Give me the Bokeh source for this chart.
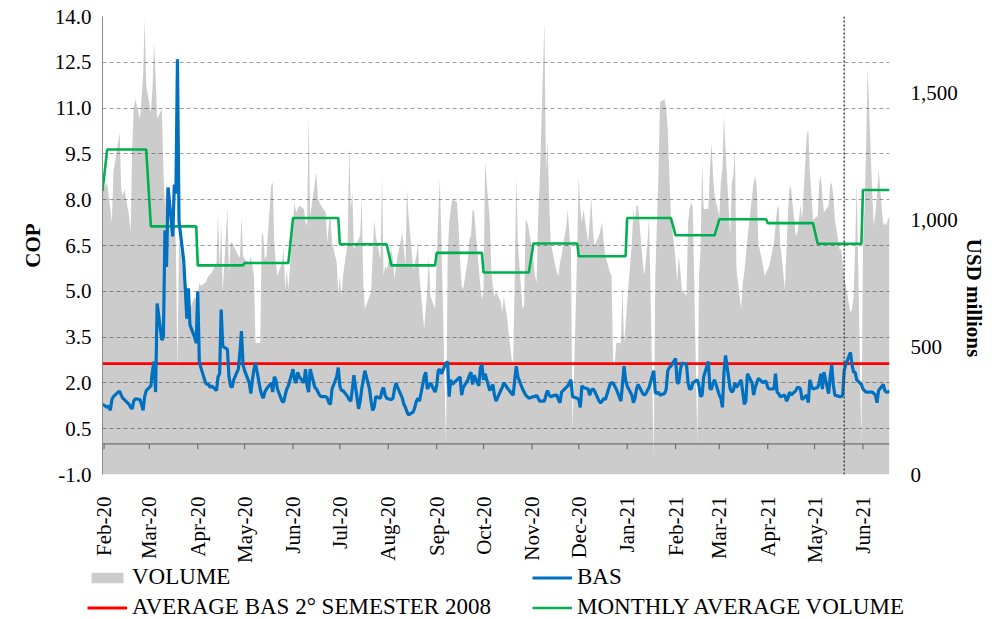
import pandas as pd
from math import pi
from bokeh.plotting import figure
from bokeh.layouts import column, row
from bokeh.models import (ColumnDataSource, Range1d, LinearAxis, FixedTicker,
                          DatetimeTickFormatter, NumeralTickFormatter, Span,
                          Legend, LegendItem)
from bokeh.embed import file_html
from bokeh.resources import INLINE

# ---------------- data ----------------
months = ["2020-01", "2020-02", "2020-03", "2020-04", "2020-05", "2020-06",
          "2020-07", "2020-08", "2020-09", "2020-10", "2020-11", "2020-12",
          "2021-01", "2021-02", "2021-03", "2021-04", "2021-05", "2021-06"]

# BAS (COP), business days
bas_2020_01 = [1.3]
bas_2020_02 = [1.2, 1.25, 1.1, 1.45, 1.55, 1.7, 1.72, 1.6, 1.5, 1.45, 1.3, 1.2, 1.15, 1.4, 1.48, 1.45, 1.3, 1.1, 1.55, 1.75]
bas_2020_03 = [1.9, 2.4, 2.7, 1.7, 4.6, 3.4, 3.5, 7.0, 5.8, 8.4, 6.8, 8.5, 8.2, 12.6, 7.3, 6.0, 5.1, 4.1, 5.1, 3.9, 3.5, 3.3]
bas_2020_04 = [5.0, 2.7, 2.5, 2.0, 1.95, 1.95, 1.85, 1.9, 1.75, 2.2, 2.3, 4.4, 3.2, 3.1, 2.2, 1.9, 1.85, 2.1, 2.45, 3.0, 3.7, 2.6]
bas_2020_05 = [2.4, 2.0, 1.65, 2.1, 2.45, 2.65, 1.8, 1.6, 1.5, 1.7, 1.8, 2.0, 1.7, 2.2, 2.1, 1.8, 1.4, 1.37, 1.6, 1.8, 1.9]
bas_2020_06 = [2.45, 2.1, 2.0, 2.35, 2.2, 2.0, 2.45, 1.9, 1.7, 2.45, 1.85, 1.8, 1.7, 1.6, 1.55, 1.55, 1.5, 1.35, 1.3, 1.8, 2.2, 2.5]
bas_2020_07 = [1.9, 1.75, 1.75, 1.55, 1.45, 1.4, 1.8, 2.25, 1.15, 1.4, 1.8, 2.1, 2.4, 1.8, 1.4, 1.1, 1.2, 1.55, 1.5, 1.75, 1.85, 1.6, 1.5]
bas_2020_08 = [1.45, 1.5, 1.8, 2.0, 1.85, 1.5, 1.3, 1.2, 1.05, 0.95, 1.05, 1.2, 1.4, 1.5, 1.4, 2.2, 2.35, 1.8, 1.9, 2.0, 1.7]
bas_2020_09 = [1.9, 2.4, 2.45, 2.3, 2.65, 2.7, 1.55, 2.1, 1.95, 2.1, 2.15, 2.2, 1.6, 1.85, 2.1, 2.25, 2.35, 1.95, 2.25, 1.9, 2.5, 2.6]
bas_2020_10 = [2.1, 2.3, 1.75, 1.85, 1.95, 1.6, 1.4, 1.75, 1.85, 2.0, 1.95, 1.85, 1.65, 1.6, 2.1, 2.55, 2.2, 1.8, 1.7, 1.6, 1.55, 1.5]
bas_2020_11 = [1.55, 1.55, 1.6, 1.5, 1.4, 1.4, 1.6, 1.75, 1.6, 1.55, 1.6, 1.6, 1.45, 1.35, 1.7, 1.85, 1.9, 2.0, 2.1, 1.55, 1.5]
bas_2020_12 = [1.45, 1.2, 1.9, 1.85, 1.8, 1.6, 1.75, 1.8, 1.75, 1.4, 1.35, 1.4, 1.5, 1.45, 1.95, 2.0, 2.0, 1.9, 1.8, 1.4, 1.95, 2.55, 2.1]
bas_2021_01 = [1.9, 1.6, 1.35, 1.5, 1.8, 1.95, 1.65, 1.6, 1.65, 1.75, 1.85, 2.4, 1.7, 1.65, 1.7, 1.6, 1.65, 1.8, 2.4, 2.5, 2.55]
bas_2021_02 = [2.8, 2.0, 2.0, 2.4, 2.65, 2.6, 2.0, 1.8, 1.8, 2.0, 2.1, 1.9, 1.55, 1.6, 2.2, 2.7, 1.8, 1.8, 2.0, 2.1]
bas_2021_03 = [1.6, 1.5, 1.2, 2.35, 2.9, 1.8, 1.7, 1.75, 2.0, 1.85, 2.1, 1.7, 1.3, 1.4, 2.3, 2.0, 1.6, 1.85, 2.0, 2.15, 2.0, 2.05, 2.05]
bas_2021_04 = [1.85, 1.8, 1.8, 2.3, 1.7, 1.65, 1.55, 1.6, 1.4, 1.5, 1.7, 1.6, 1.75, 1.85, 1.85, 1.8, 1.45, 1.6, 1.35, 2.1, 1.9, 1.8]
bas_2021_05 = [1.85, 2.0, 2.3, 1.8, 2.35, 1.65, 2.2, 2.6, 1.95, 1.6, 1.55, 1.55, 1.6, 2.4, 2.6, 3.0, 2.6, 2.35, 2.35, 2.1, 1.95]
bas_2021_06 = [1.8, 1.75, 1.7, 1.7, 1.7, 1.65, 1.6, 1.35, 1.75, 1.95, 1.75, 1.7, 1.7, 1.75]

# VOLUME (USD millions), business days
vol_2020_01 = [1115]
vol_2020_02 = [1148, 1096, 1043, 991, 1188, 1306, 1345, 1122, 1096, 1122, 1017, 951, 1280, 1437, 1476, 1398, 1476, 1568, 1791, 1529]
vol_2020_03 = [1423, 1516, 1699, 1568, 1398, 1437, 1200, 1050, 1150, 1000, 950, 1000, 900, 413, 925, 780, 760, 720, 680, 650, 700, 690]
vol_2020_04 = [689, 755, 741, 755, 768, 781, 787, 794, 833, 1030, 807, 991, 715, 1050, 781, 912, 912, 899, 860, 853, 1011, 860]
vol_2020_05 = [846, 833, 860, 820, 781, 518, 518, 951, 938, 846, 860, 1135, 1148, 912, 833, 781, 833, 886, 728, 807, 728]
vol_2020_06 = [991, 1070, 1030, 1043, 1056, 1043, 991, 978, 1411, 1017, 1148, 1188, 1083, 1070, 1056, 1030, 912, 991, 1017, 912, 833, 715]
vol_2020_07 = [781, 702, 781, 912, 1293, 1043, 1109, 886, 925, 938, 1090, 755, 650, 702, 715, 860, 1003, 938, 846, 1175, 781, 820, 807]
vol_2020_08 = [886, 846, 768, 820, 860, 951, 886, 820, 1122, 1017, 807, 833, 860, 912, 781, 571, 650, 728, 860, 702, 650]
vol_2020_09 = [846, 1017, 1161, 938, 125, 846, 991, 1043, 1083, 1070, 978, 846, 741, 728, 846, 925, 938, 1043, 1030, 807, 741, 689]
vol_2020_10 = [720, 1230, 1000, 800, 740, 700, 720, 680, 640, 700, 660, 620, 453, 440, 781, 1175, 912, 650, 663, 1003, 991, 965]
vol_2020_11 = [846, 781, 755, 1017, 1150, 1780, 1200, 1306, 1096, 912, 820, 794, 781, 833, 860, 978, 1043, 938, 886, 164, 886]
vol_2020_12 = [1175, 1043, 991, 1043, 912, 991, 1096, 965, 899, 938, 965, 991, 912, 860, 794, 781, 453, 426, 518, 518, 741, 518, 584]
vol_2021_01 = [676, 912, 1043, 991, 1056, 1056, 833, 781, 846, 912, 1017, 72, 781, 978, 1175, 1463, 1476, 1437, 1358, 1175, 1017]
vol_2021_02 = [846, 755, 860, 807, 728, 702, 991, 1043, 1070, 1050, 125, 781, 886, 1227, 1043, 1043, 1201, 1306, 1175, 1096]
vol_2021_03 = [1017, 1148, 1201, 1411, 1280, 938, 1148, 1175, 1280, 807, 650, 755, 794, 860, 925, 1096, 1148, 1175, 1122, 912, 820, 781, 794]
vol_2021_04 = [807, 820, 912, 978, 1043, 1056, 912, 728, 886, 1030, 1135, 1122, 938, 950, 1000, 1060, 1000, 1332, 1358, 1188, 1100, 1000]
vol_2021_05 = [1017, 1148, 1175, 1096, 1030, 1056, 1135, 1148, 1096, 1003, 886, 886, 833, 781, 742, 636, 650, 702, 900, 1150, 125]
vol_2021_06 = [912, 1043, 1280, 1600, 1096, 978, 1030, 1096, 1201, 978, 991, 978, 1004, 1017]

# monthly average volume (USD millions), one per month above
monthly_avg_volume = [1114, 1277, 975, 822, 831, 1008, 905, 822, 871, 794,
                      908, 858, 1008, 940, 1003, 988, 907, 1118]

avg_bas_2s_2008 = 2.63          # COP
marker_date = "2021-05-20"      # dotted vertical line
first_day, last_day = "2020-01-31", "2021-06-18"

left_ticks = [-1.0, 0.5, 2.0, 3.5, 5.0, 6.5, 8.0, 9.5, 11.0, 12.5, 14.0]
right_ticks = [0, 500, 1000, 1500]
tick_months = pd.date_range("2020-02-01", "2021-06-01", freq="MS")

bas_by_month = [bas_2020_01, bas_2020_02, bas_2020_03, bas_2020_04, bas_2020_05, bas_2020_06,
                bas_2020_07, bas_2020_08, bas_2020_09, bas_2020_10, bas_2020_11, bas_2020_12,
                bas_2021_01, bas_2021_02, bas_2021_03, bas_2021_04, bas_2021_05, bas_2021_06]
vol_by_month = [vol_2020_01, vol_2020_02, vol_2020_03, vol_2020_04, vol_2020_05, vol_2020_06,
                vol_2020_07, vol_2020_08, vol_2020_09, vol_2020_10, vol_2020_11, vol_2020_12,
                vol_2021_01, vol_2021_02, vol_2021_03, vol_2021_04, vol_2021_05, vol_2021_06]

# ---------------- build table ----------------
bdays = pd.bdate_range(first_day, last_day)
labels = bdays.strftime("%Y-%m")
dates, bas, vol, avg = [], [], [], []
for m, b, v, a in zip(months, bas_by_month, vol_by_month, monthly_avg_volume):
    days = bdays[labels == m]
    n = min(len(days), len(b), len(v))
    dates.extend(list(days[:n]))
    bas.extend(b[:n])
    vol.extend(v[:n])
    avg.extend([a] * n)

src = ColumnDataSource(dict(date=dates, bas=bas, vol=vol, avg=avg,
                            ref=[avg_bas_2s_2008] * len(dates)))
tick_src = ColumnDataSource(dict(t=list(tick_months)))

FONT = "Liberation Serif"
FS = "21px"
C_AREA, A_AREA = "black", 0.2
C_RED, C_GREEN, C_BLUE = "#FF0000", "#00B050", "#0070C0"

LEFT, RIGHT = 102, 93
FW = 787

p = figure(x_axis_type="datetime", frame_width=FW, frame_height=458,
           x_range=Range1d(pd.Timestamp(first_day), pd.Timestamp(last_day)),
           y_range=Range1d(-1, 14),
           output_backend="svg", toolbar_location=None,
           min_border_left=LEFT, min_border_top=16, min_border_right=RIGHT,
           min_border_bottom=83)
p.extra_y_ranges = {"vol": Range1d(0, 1800)}
p.outline_line_color = None
p.background_fill_color = "white"
p.border_fill_color = "white"

# grid
p.xgrid.visible = False
p.ygrid.ticker = FixedTicker(ticks=left_ticks)
p.ygrid.grid_line_color = "#9E9E9E"
p.ygrid.grid_line_dash = "4 3"
p.ygrid.grid_line_width = 1

# category axis line at zero with its tick marks
p.add_layout(Span(location=0, dimension="width", line_color="#8C8C8C",
                  line_width=1.2, level="underlay"))
p.segment(x0="t", y0=0, x1="t", y1=-0.17, source=tick_src,
          line_color="#8C8C8C", line_width=1.2)

# series
p.varea(x="date", y1=0, y2="vol", source=src, y_range_name="vol",
        fill_color=C_AREA, fill_alpha=A_AREA)
p.line("date", "ref", source=src, line_color=C_RED, line_width=2.8)
p.line("date", "avg", source=src, y_range_name="vol", line_color=C_GREEN, line_width=2.6)
p.line("date", "bas", source=src, line_color=C_BLUE, line_width=3.2)

p.add_layout(Span(location=pd.Timestamp(marker_date).value / 1e6, dimension="height",
                  line_color="#404040", line_dash="2 2", line_width=1.5))

# x axis
xa = p.xaxis[0]
xa.ticker = FixedTicker(ticks=[t.value / 1e6 for t in tick_months])
fmt = "%b-%y"
xa.formatter = DatetimeTickFormatter(microseconds=fmt, milliseconds=fmt, seconds=fmt,
                                     minsec=fmt, minutes=fmt, hourmin=fmt, hours=fmt,
                                     days=fmt, months=fmt, years=fmt)
xa.major_label_orientation = pi / 2
xa.axis_line_color = None
xa.major_tick_line_color = None
xa.minor_tick_line_color = None
xa.major_label_standoff = 16
xa.major_label_text_font = FONT
xa.major_label_text_font_size = FS
xa.major_label_text_color = "black"

# left axis
ya = p.yaxis[0]
ya.ticker = FixedTicker(ticks=left_ticks)
ya.formatter = NumeralTickFormatter(format="0.0")
ya.axis_line_color = "#8C8C8C"
ya.major_tick_line_color = None
ya.minor_tick_line_color = None
ya.major_label_standoff = 5
ya.major_label_text_font = FONT
ya.major_label_text_font_size = FS
ya.major_label_text_color = "black"
ya.axis_label = "COP"
ya.axis_label_text_font = FONT
ya.axis_label_text_font_size = FS
ya.axis_label_text_font_style = "bold"
ya.axis_label_text_color = "black"
ya.axis_label_standoff = 7

# right axis (label sits below the middle of the axis, as in the original)
ra = LinearAxis(y_range_name="vol", ticker=FixedTicker(ticks=right_ticks),
                formatter=NumeralTickFormatter(format="0,0"))
ra.axis_line_color = None
ra.major_tick_line_color = None
ra.minor_tick_line_color = None
ra.major_label_standoff = 15
ra.major_label_text_font = FONT
ra.major_label_text_font_size = FS
ra.major_label_text_color = "black"
ra.axis_label = "\u00a0" * 20 + "USD millions"
ra.axis_label_text_font = FONT
ra.axis_label_text_font_size = FS
ra.axis_label_text_font_style = "bold"
ra.axis_label_text_color = "black"
ra.axis_label_standoff = 1
p.add_layout(ra, "right")

# ---------------- legend strip (same series, drawn out of view) ----------------
LFS = "23px"
leg = figure(width=LEFT + FW + RIGHT, height=55, x_range=Range1d(0, 1), y_range=Range1d(0, 1),
             output_backend="svg", toolbar_location=None,
             x_axis_location=None, y_axis_location=None,
             min_border_left=0, min_border_right=0, min_border_top=0, min_border_bottom=0)
leg.outline_line_color = None
leg.xgrid.visible = False
leg.ygrid.visible = False
l_area = leg.varea(x="date", y1=0, y2="vol", source=src, fill_color=C_AREA, fill_alpha=A_AREA)
l_red = leg.line("date", "ref", source=src, line_color=C_RED, line_width=2.8)
l_blue = leg.line("date", "bas", source=src, line_color=C_BLUE, line_width=3.2)
l_green = leg.line("date", "avg", source=src, line_color=C_GREEN, line_width=2.6)

legend = Legend(items=[LegendItem(label="VOLUME", renderers=[l_area]),
                       LegendItem(label="AVERAGE BAS 2° SEMESTER 2008", renderers=[l_red]),
                       LegendItem(label="BAS", renderers=[l_blue]),
                       LegendItem(label="MONTHLY AVERAGE VOLUME", renderers=[l_green])],
                orientation="vertical", ncols=2, location=(87, 0),
                padding=0, margin=0, spacing=4,
                glyph_width=40, glyph_height=13, label_standoff=5,
                label_width=396, label_height=20,
                label_text_font=FONT, label_text_font_size=LFS,
                label_text_color="black",
                border_line_alpha=0, background_fill_alpha=0)
leg.add_layout(legend, "center")

layout = column(p, row(leg), spacing=0)
open("out.html", "w").write(file_html(layout, INLINE))
